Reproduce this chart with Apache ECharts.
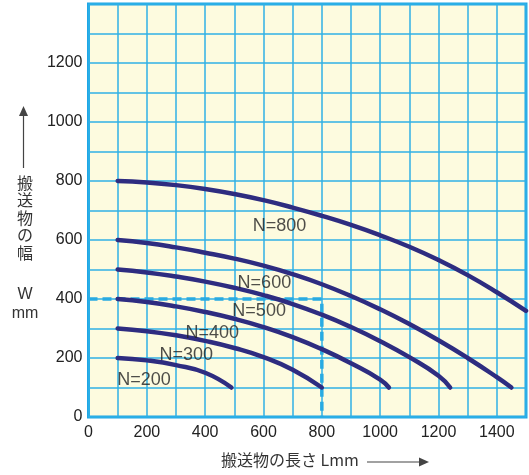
<!DOCTYPE html>
<html><head><meta charset="utf-8">
<script src="https://cdn.jsdelivr.net/npm/echarts@6/dist/echarts.min.js"></script>
<style>html,body{margin:0;padding:0;background:#fff}#c{width:529px;height:475px}</style>
</head><body><div id="c"></div>
<script>
const seriesNames = ['N=200','N=300','N=400','N=500','N=600','N=800'];
const n200 = [[100,200],[200,192],[300,176],[400,150],[490,100]];
const n300 = [[100,300],[200,291],[300,277],[400,258],[500,234],[600,203],[700,160],[800,100]];
const n400 = [[100,400],[200,390],[300,375],[400,356],[500,333],[600,305],[700,271],[800,230],[900,182],[1000,127],[1030,100]];
const n500 = [[100,500],[200,490],[300,476],[400,459],[500,438],[600,413],[700,383],[800,347],[900,305],[1000,257],[1100,203],[1200,140],[1240,100]];
const n600 = [[100,600],[200,590],[300,575],[400,557],[500,537],[600,513],[700,484],[800,450],[900,410],[1000,365],[1100,315],[1200,260],[1300,200],[1400,135],[1450,100]];
const n800 = [[100,800],[200,795],[300,786],[400,773],[500,756],[600,735],[700,710],[800,682],[900,651],[1000,616],[1100,577],[1200,532],[1300,481],[1400,423],[1500,360]];
const curves = [n200,n300,n400,n500,n600,n800];
const labelPos = [[190,126],[335,211],[424,286],[585,358],[603,454],[655,646]];
const guide = [[0,400],[800,400],[800,0]];
const xTicks = [0,200,400,600,800,1000,1200,1400];
const yTicks = [0,200,400,600,800,1000,1200];
const xTitle = '搬送物の長さ Lmm';
const yTitleChars = ['搬','送','物','の','幅'];
const yUnit = ['W','mm'];

const chart = echarts.init(document.getElementById('c'));
const font = '"Liberation Sans", Arial, sans-serif';
const navy = '#2e2c80';
const cyan = '#29abe2';
const series = curves.map((d,i)=>({
  type:'line', data:d, smooth:0.5, symbol:'none', z:5,
  lineStyle:{color:navy,width:4.5,cap:'round'}
}));
series.push({type:'line', data:guide, symbol:'none', z:4,
  lineStyle:{color:cyan,width:3.5,type:[9,5]}});
series.push({type:'scatter', symbolSize:0, z:6,
  data: labelPos.map((p,i)=>({value:p, name:seriesNames[i]})),
  label:{show:true, position:'inside', formatter:p=>p.name, color:'#222', fontSize:18, fontFamily:font}
});
chart.setOption({
  animation:false,
  grid:{left:88.5,right:1.5,top:4,bottom:58,show:true,backgroundColor:'#fdfbdf',borderColor:'#1ea6e6',borderWidth:3},
  xAxis:{type:'value',min:0,max:1500,interval:100,
    axisLine:{show:false},axisTick:{show:false},
    splitLine:{show:true,lineStyle:{color:'#2fb0e6',width:1.5}},
    axisLabel:{color:'#222',fontSize:16,fontFamily:font,margin:8,
      formatter:v=>xTicks.includes(v)?String(v):''}},
  yAxis:{type:'value',min:0,max:1400,interval:100,
    axisLine:{show:false},axisTick:{show:false},
    splitLine:{show:true,lineStyle:{color:'#2fb0e6',width:1.5}},
    axisLabel:{color:'#222',fontSize:16,fontFamily:font,margin:6,
      formatter:v=>yTicks.includes(v)?String(v):''}},
  series:series,
  graphic:[
    {type:'text',left:221,top:452,style:{text:xTitle,fontSize:16,fontFamily:'"Noto Sans CJK JP", sans-serif',fill:'#333'}},
    {type:'line',shape:{x1:367,y1:462,x2:422,y2:462},style:{stroke:'#444',lineWidth:1.2}},
    {type:'polygon',shape:{points:[[429,462],[419,457.5],[419,466.5]]},style:{fill:'#444'}},
    {type:'line',shape:{x1:23.5,y1:168,x2:23.5,y2:114},style:{stroke:'#444',lineWidth:1.2}},
    {type:'polygon',shape:{points:[[23.5,106],[19,116],[28,116]]},style:{fill:'#444'}},
    {type:'text',x:25,y:174,style:{text:yTitleChars.join('\n'),fontSize:16,lineHeight:17.5,align:'center',fontFamily:'"Noto Sans CJK JP", sans-serif',fill:'#333'}},
    {type:'text',x:25,y:285,style:{text:yUnit.join('\n'),fontSize:16,lineHeight:19,align:'center',fontFamily:font,fill:'#333'}}
  ]
});
</script></body></html>
